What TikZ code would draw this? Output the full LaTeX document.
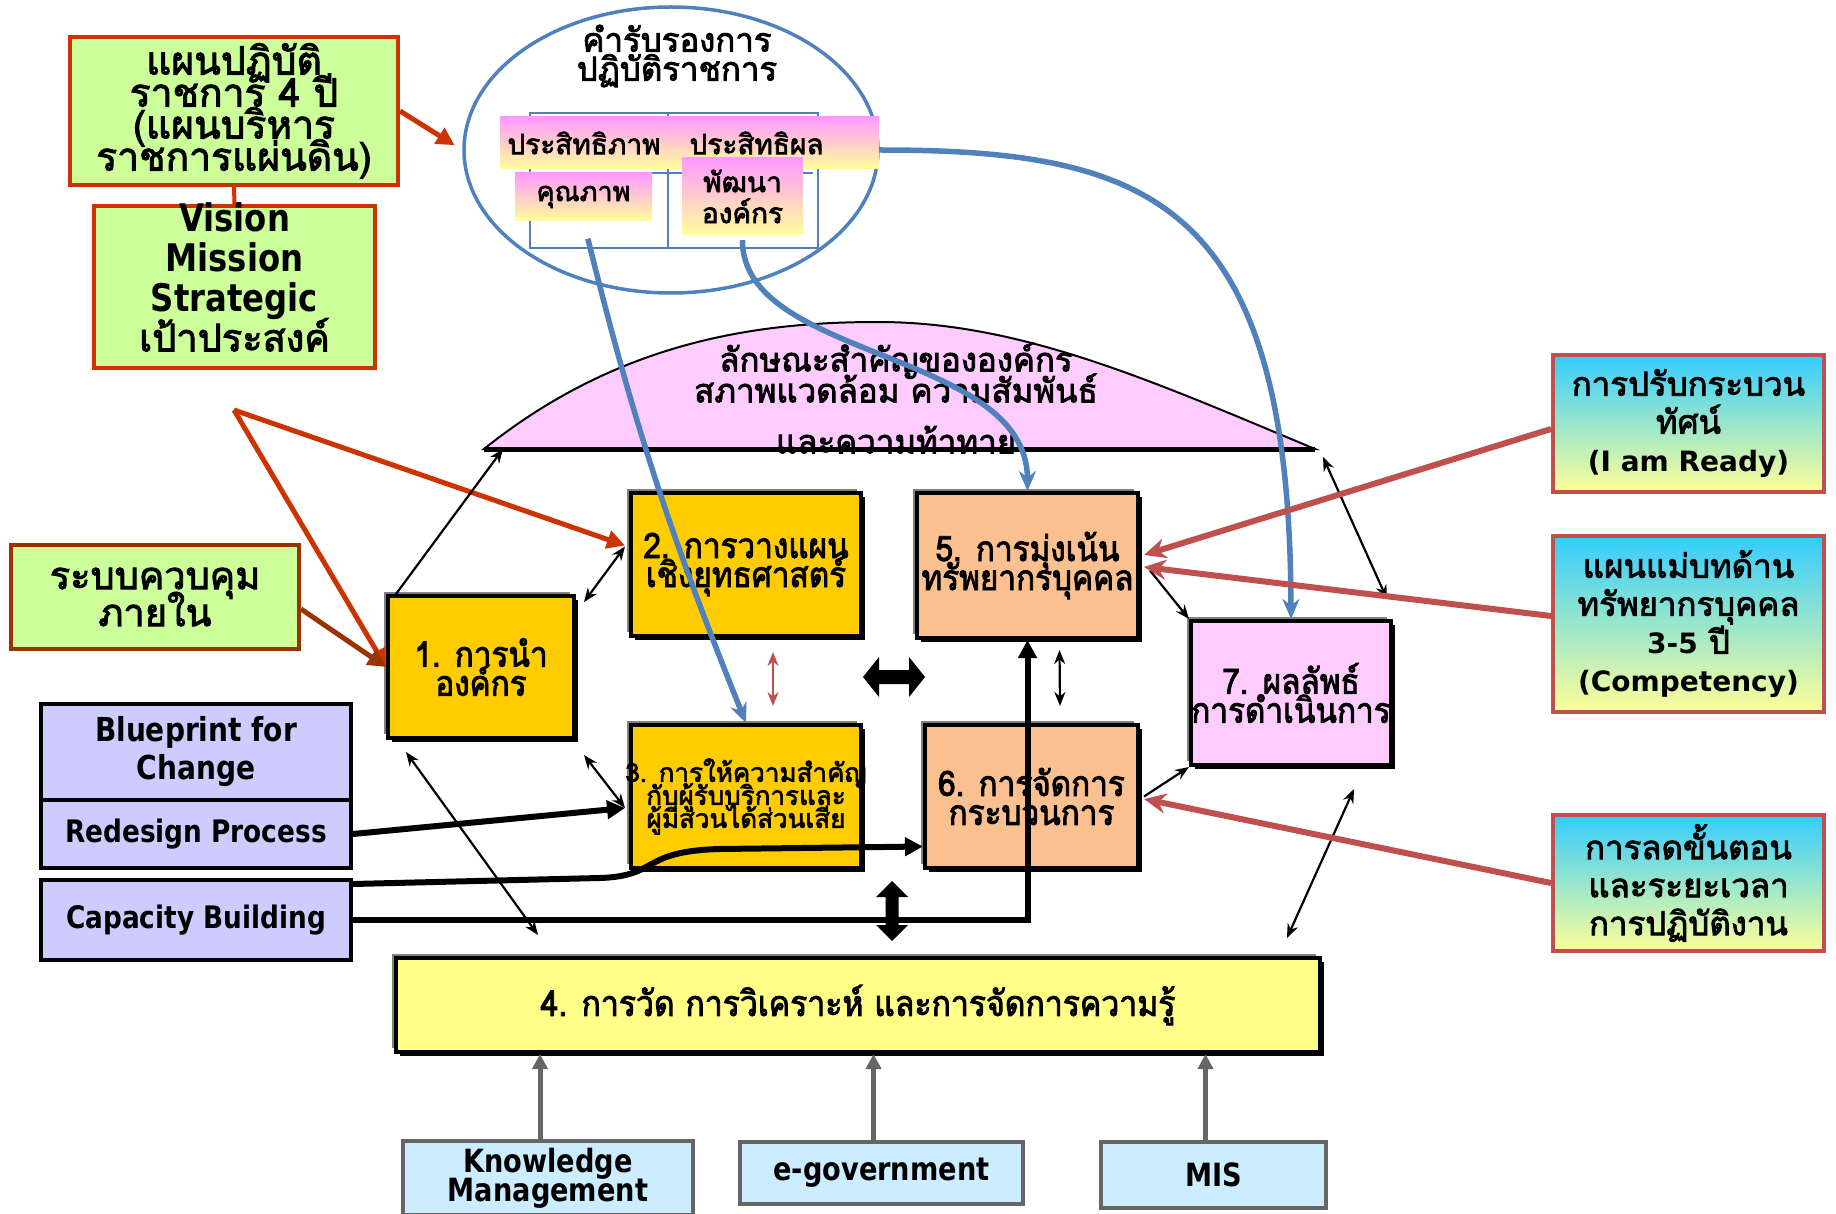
\documentclass[tikz,border=0pt]{standalone}
\usepackage{fontspec}
\setmainfont[Script=Thai,BoldFont=Loma,BoldFeatures={FakeBold=2.5}]{Loma}
\newfontfamily\condfont[Script=Thai,FakeStretch=0.9,BoldFont=Loma,BoldFeatures={FakeBold=2.5}]{Loma}
\newfontfamily\latinfont{DejaVu Sans}
\newfontfamily\latincond[FakeStretch=0.85]{DejaVu Sans}
\usetikzlibrary{arrows.meta,shapes.geometric,shadows}
\setlength{\lineskiplimit}{-\maxdimen}
\newcommand{\spill}[1]{\makebox[0pt]{#1}}

\definecolor{plangreen}{HTML}{CCFF99}
\definecolor{planred}{HTML}{CC3300}
\definecolor{ctrlbrown}{HTML}{993300}
\definecolor{coregold}{HTML}{FFCC00}
\definecolor{corepeach}{HTML}{FAC090}
\definecolor{corepink}{HTML}{FFCCFF}
\definecolor{coreyellow}{HTML}{FFFF88}
\definecolor{bplavender}{HTML}{CCCCFF}
\definecolor{itblue}{HTML}{CCECFF}
\definecolor{itgray}{HTML}{666666}
\definecolor{kpiblue}{HTML}{4F81BD}
\definecolor{hrred}{HTML}{C0504D}
\definecolor{hrcyan}{HTML}{33CCFF}
\definecolor{hryellow}{HTML}{FFFF99}
\definecolor{tagpink}{HTML}{FF99FF}

\tikzset{
  planbox/.style={fill=plangreen, draw=planred, line width=4pt, align=center, inner sep=0pt},
  tagbox/.style={top color=tagpink, bottom color=hryellow, inner sep=0pt, align=center,
    font=\bfseries\fontsize{28}{31}\selectfont},
  core/.style={draw=black, line width=4pt, align=center, inner sep=0pt,
    font=\condfont\bfseries\fontsize{35}{29}\selectfont,
    general shadow={fill=gray, shadow xshift=-4pt, shadow yshift=4pt},
    general shadow={fill=black, shadow xshift=4pt, shadow yshift=-4pt}},
  bpbox/.style={fill=bplavender, draw=black, line width=4pt, align=center, inner sep=0pt,
    font=\latincond\bfseries\fontsize{31}{38}\selectfont},
  itbox/.style={fill=itblue, draw=itgray, line width=4pt, align=center, inner sep=0pt,
    font=\latincond\bfseries\fontsize{32}{29}\selectfont},
  hrbox/.style={top color=hrcyan, bottom color=hryellow, draw=hrred, line width=4pt,
    align=center, inner sep=0pt, font=\bfseries\fontsize{33}{38}\selectfont},
  planarrow/.style={draw=planred, line width=5pt, -{Triangle[length=18pt,width=18pt]}},
  hrarrow/.style={draw=hrred, line width=6pt, -{Stealth[length=22pt,width=20pt]}},
  kpilink/.style={draw=kpiblue, line width=5.5pt, -{Stealth[length=20pt,width=17pt]}},
  itarrow/.style={draw=itgray, line width=5pt, -{Triangle[length=15pt,width=15pt]}},
  thinlink/.style={line width=2.2pt, {Stealth[length=14pt,width=11pt]}-{Stealth[length=14pt,width=11pt]}},
  thinto/.style={line width=2.2pt, -{Stealth[length=14pt,width=11pt]}},
  thicklink/.style={line width=6pt, -{Triangle[length=18pt,width=18pt]}}
}

\begin{document}
\begin{tikzpicture}[x=1pt, y=-1pt]
  \useasboundingbox (0,0) rectangle (1836,1214);

  % Plan and vision boxes (top left)
  \node[planbox, minimum width=328, minimum height=148, font=\bfseries\fontsize{39}{32}\selectfont] (plan) at (234,111)
    {แผนปฏิบัติ\\ราชการ 4 ปี\\(แผนบริหาร\\ราชการแผ่นดิน)};
  \node[planbox, minimum width=281, minimum height=162,
    label={[align=center, yshift=10pt, font=\bfseries\fontsize{38}{40}\selectfont]center:{%
      {\latincond Vision}\\{\latincond Mission}\\{\latincond Strategic}\\เป้าประสงค์}}] (vision) at (234.5,287) {};
  \draw[planred, line width=4pt] (plan.south) -- (vision.north);

  % Performance agreement (ellipse)
  \node[ellipse, draw=kpiblue, line width=3.5pt, minimum width=414, minimum height=286, inner sep=0pt] (kpi) at (671,150) {};
  \node[align=center, font=\bfseries\fontsize{33}{29}\selectfont] (kpititle) at (677,56) {คำรับรองการ\\ปฏิบัติราชการ};
  \draw[kpiblue, line width=2.5pt] (530,113) rectangle (818,248) (668,113) -- (668,248) (530,173) -- (813,173);
  \node[tagbox, minimum width=168, minimum height=52] (eff) at (584,143) {ประสิทธิภาพ};
  \node[tagbox, minimum width=211, minimum height=52, text width=168, align=left] (effct) at (773.5,143) {ประสิทธิผล};
  \node[tagbox, minimum width=137, minimum height=48, font=\bfseries\fontsize{27}{31}\selectfont] (qual) at (583.5,197) {คุณภาพ};
  \node[tagbox, minimum width=121, minimum height=77] (dev) at (742.5,196.5) {พัฒนา\\องค์กร};

  % Organisational profile (bell shape)
  \coordinate (envL) at (484,449);
  \coordinate (envR) at (1315,449);
  \filldraw[fill=corepink, draw=black, line width=2pt] (envL) .. controls (620,340) and (760,322) .. (878,322)
    .. controls (1020,322) and (1150,380) .. (envR) -- cycle;
  \draw[line width=5pt] (envL) -- (envR);
  \node[align=center, font=\bfseries\fontsize{33}{31}\selectfont] (envtext) at (896,398)
    {ลักษณะสำคัญขององค์กร\\สภาพแวดล้อม ความสัมพันธ์\\[20pt]และความท้าทาย};

  % Core criteria boxes
  \node[core, fill=coregold, minimum width=186, minimum height=142] (lead) at (481,667) {1. การนำ\\องค์กร};
  \node[core, fill=coregold, minimum width=230, minimum height=143] (strat) at (746,564.5) {2. การวางแผน\\เชิงยุทธศาสตร์};
  \node[core, fill=coregold, minimum width=230, minimum height=143, font=\normalfont\bfseries\fontsize{26}{23}\selectfont] (cust) at (746,796.5)
    {\spill{3. การให้ความสำคัญ}\\\spill{กับผู้รับบริการและ}\\\spill{ผู้มีส่วนได้ส่วนเสีย}};
  \node[core, fill=corepeach, minimum width=221, minimum height=145] (hr) at (1027.5,565.5) {5. การมุ่งเน้น\\\spill{ทรัพยากรบุคคล}};
  \node[core, fill=corepeach, minimum width=213, minimum height=143] (proc) at (1031.5,796.5) {6. การจัดการ\\กระบวนการ};
  \node[core, fill=corepink, minimum width=200, minimum height=144] (res) at (1291,693) {7. ผลลัพธ์\\\spill{การดำเนินการ}};
  \node[core, fill=coreyellow, minimum width=924, minimum height=94, font=\condfont\bfseries\fontsize{35.5}{27}\selectfont] (meas) at (858,1005)
    {4. การวัด การวิเคราะห์ และการจัดการความรู้};

  % Tools feeding box 4
  \node[itbox, minimum width=290, minimum height=74] (km) at (548,1178) {Knowledge\\Management};
  \node[itbox, minimum width=283, minimum height=62] (egov) at (881.5,1173) {e-government};
  \node[itbox, minimum width=225, minimum height=66] (mis) at (1213.5,1175) {MIS};
  \foreach \t in {km,egov,mis}
    \draw[itarrow] ([xshift=-8pt]\t.north) -- ([xshift=-8pt]\t.north |- meas.south);

  % HR programmes (right)
  \node[hrbox, minimum width=271, minimum height=137] (para) at (1688.5,423.5)
    {การปรับกระบวน\\ทัศน์\\{\latinfont\fontsize{28}{38}\selectfont (I am Ready)}};
  \node[hrbox, minimum width=271, minimum height=176] (comp) at (1688.5,624)
    {แผนแม่บทด้าน\\ทรัพยากรบุคคล\\{\latinfont\fontsize{28}{38}\selectfont 3-5} ปี\\{\latinfont\fontsize{28}{38}\selectfont (Competency)}};
  \node[hrbox, minimum width=271, minimum height=136] (redu) at (1688.5,883)
    {การลดขั้นตอน\\และระยะเวลา\\การปฏิบัติงาน};

  % Internal control and blueprint (left)
  \node[planbox, draw=ctrlbrown, minimum width=288, minimum height=104, font=\bfseries\fontsize{38}{37}\selectfont] (ctrl) at (155,597)
    {ระบบควบคุม\\ภายใน};
  \node[bpbox, minimum width=310, minimum height=96, font=\latincond\bfseries\fontsize{33}{38}\selectfont] (bp) at (196,752) {Blueprint for\\Change};
  \node[bpbox, minimum width=310, minimum height=68] (rp) at (196,834) {Redesign Process};
  \node[bpbox, minimum width=310, minimum height=80] (cb) at (196,920) {Capacity Building};

  % Fat double arrows
  \fill (863,677) -- (879,657) -- (879,670) -- (909,670) -- (909,657) -- (925,677)
    -- (909,697) -- (909,684) -- (879,684) -- (879,697) -- cycle;
  \fill (892,881) -- (908,897) -- (898.5,897) -- (898.5,925) -- (908,925) -- (892,941)
    -- (876,925) -- (885.5,925) -- (885.5,897) -- (876,897) -- cycle;

  % Plan arrows (red)
  \coordinate (fork) at (234,410);
  \draw[planarrow, shorten >=9pt] (plan.east) -- (kpi.west);
  \draw[planarrow] (fork) -- (lead.west);
  \draw[planarrow] (fork) -- ([xshift=-4pt,yshift=19pt]strat.west);
  \draw[planarrow, draw=ctrlbrown] ([yshift=-12pt]ctrl.east) -- (lead.west);

  % Thin links between criteria
  \draw[thinto] ([xshift=10pt]lead.north west) -- ([xshift=19pt]envL);
  \draw[thinlink] ([xshift=8pt,yshift=-8pt]lead.north east) -- ([xshift=-4pt,yshift=18pt]strat.west);
  \draw[thinlink] ([xshift=20pt,yshift=-12pt]lead.south west) -- ([xshift=144pt,yshift=21pt]meas.north west);
  \draw[thinlink] ([xshift=8pt,yshift=-15pt]lead.south east) -- ([xshift=-4pt,yshift=-11.5pt]cust.west);
  \draw[thinto] ([xshift=10pt,yshift=-5pt]hr.east) -- (res.north west);
  \draw[thinto] ([xshift=4pt]proc.east) -- (res.south west);
  \draw[thinlink] ([xshift=8pt,yshift=-8pt]envR) -- ([xshift=-6pt,yshift=20pt]res.north east);
  \draw[thinlink] ([xshift=-39pt,yshift=-22pt]res.south east) -- ([xshift=-35pt,yshift=18pt]meas.north east);
  \draw[thinlink] ([xshift=32pt,yshift=-10pt]hr.south) -- ([xshift=28.5pt,yshift=17pt]proc.north);
  \draw[thinlink, draw=hrred, fill=hrred] ([xshift=27pt,yshift=-14pt]strat.south) -- ([xshift=27pt,yshift=17pt]cust.north);

  % Blueprint links (thick black)
  \draw[thicklink] (rp.east) -- ([xshift=-4pt,yshift=-11.5pt]cust.west);
  \draw[thicklink] ([yshift=36pt]cb.east) -- (600,878) .. controls (660,876) and (640,851) .. (720,849) -- ([yshift=-50pt]proc.west);
  \draw[thicklink] (cb.east) -| (hr.south);

  % Agreement links (blue)
  \draw[kpilink, shorten <=18pt] (qual.south) to[bend right=4] (cust.north);
  \draw[kpilink, shorten <=5pt] (dev.south) .. controls (742,360) and (1027,350) .. (hr.north);
  \draw[kpilink] ([yshift=-7pt]effct.east) .. controls (1150,150) and (1290,200) .. (res.north);

  % HR programme arrows
  \draw[hrarrow] ([yshift=-5.5pt]para.west) -- ([xshift=4pt,yshift=10.5pt]hr.east);
  \draw[hrarrow] ([yshift=8pt]comp.west) -- ([xshift=4pt,yshift=-1.5pt]hr.east);
  \draw[hrarrow] (redu.west) -- ([xshift=4pt,yshift=-2.5pt]proc.east);
\end{tikzpicture}
\end{document}
